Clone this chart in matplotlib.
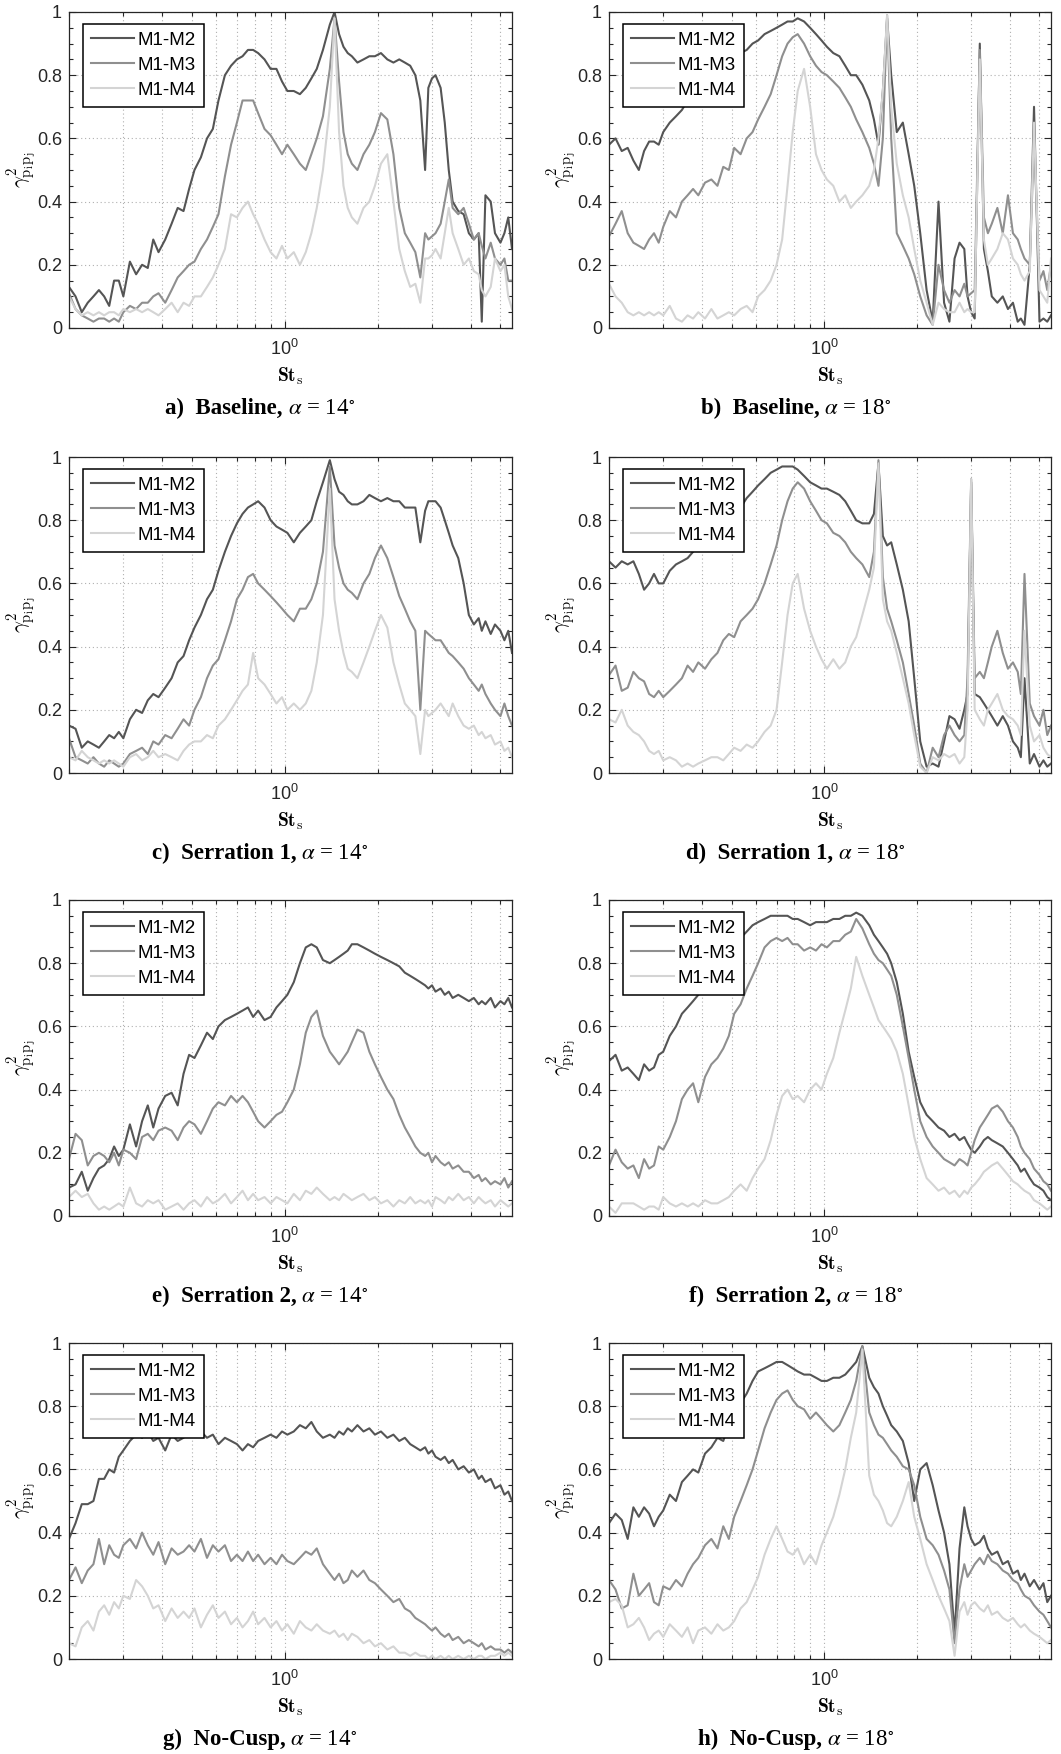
import matplotlib.pyplot as plt
from matplotlib.ticker import MultipleLocator, FixedLocator, NullFormatter, FuncFormatter

plt.rcParams['font.family'] = ['Liberation Sans', 'DejaVu Sans']

# Strouhal number grid
st = [0.20, 0.21, 0.22, 0.23, 0.24, 0.25, 0.26, 0.27, 0.28, 0.29, 0.30,
      0.315, 0.33, 0.345, 0.36, 0.375, 0.39,
      0.41, 0.43, 0.45, 0.47, 0.49, 0.51,
      0.535, 0.56, 0.585, 0.61,
      0.64, 0.67, 0.70, 0.73, 0.76, 0.79, 0.82,
      0.86, 0.90, 0.94, 0.98,
      1.02, 1.07, 1.12, 1.17, 1.22, 1.27,
      1.33, 1.40, 1.45, 1.50, 1.55, 1.60, 1.65,
      1.72, 1.80, 1.88, 1.96,
      2.05, 2.15, 2.25, 2.35, 2.45, 2.55, 2.65, 2.75, 2.85,
      2.92, 3.0, 3.08,
      3.2, 3.3, 3.4, 3.5, 3.65, 3.8, 3.95,
      4.1, 4.25, 4.35, 4.47, 4.65, 4.8, 5.0, 5.15, 5.3, 5.45]

# a) Baseline, 14 deg
a_m12 = [0.13, 0.10, 0.05, 0.08, 0.10, 0.12, 0.10, 0.07, 0.15, 0.15, 0.10,
         0.21, 0.17, 0.20, 0.19, 0.28, 0.24,
         0.28, 0.33, 0.38, 0.37, 0.44, 0.50,
         0.54, 0.60, 0.63, 0.72,
         0.80, 0.83, 0.85, 0.86, 0.88, 0.88, 0.87,
         0.85, 0.82, 0.82, 0.78,
         0.75, 0.75, 0.74, 0.76, 0.79, 0.82,
         0.88, 0.96, 1.00, 0.93, 0.89, 0.87, 0.86,
         0.84, 0.85, 0.86, 0.86,
         0.87, 0.85, 0.84, 0.85, 0.84, 0.83, 0.80, 0.72, 0.50,
         0.76, 0.79, 0.80,
         0.76, 0.65, 0.50, 0.40, 0.37, 0.36, 0.30,
         0.28, 0.30, 0.02, 0.42, 0.40, 0.30, 0.27, 0.30, 0.35, 0.25]
a_m13 = [0.11, 0.06, 0.04, 0.03, 0.02, 0.03, 0.03, 0.02, 0.03, 0.02, 0.05,
         0.07, 0.06, 0.08, 0.08, 0.10, 0.11,
         0.08, 0.12, 0.16, 0.18, 0.20, 0.21,
         0.25, 0.28, 0.32, 0.36,
         0.48, 0.58, 0.65, 0.72, 0.72, 0.72, 0.68,
         0.63, 0.61, 0.58, 0.55,
         0.58, 0.55, 0.52, 0.50, 0.55, 0.60,
         0.67, 0.82, 0.98, 0.78, 0.62, 0.55, 0.52,
         0.50, 0.55, 0.58, 0.62,
         0.68, 0.66, 0.55, 0.38, 0.30, 0.27, 0.24, 0.16, 0.30,
         0.28, 0.29, 0.30,
         0.33, 0.40, 0.47, 0.38, 0.36, 0.38, 0.33,
         0.28, 0.30, 0.26, 0.22, 0.27, 0.22, 0.20, 0.22, 0.15, 0.15]
a_m14 = [0.10, 0.06, 0.04, 0.05, 0.04, 0.05, 0.04, 0.05, 0.05, 0.04, 0.06,
         0.05, 0.06, 0.05, 0.06, 0.05, 0.04,
         0.06, 0.08, 0.05, 0.08, 0.07, 0.10,
         0.10, 0.13, 0.16, 0.20,
         0.25, 0.36, 0.35, 0.38, 0.40, 0.36, 0.33,
         0.28, 0.24, 0.22, 0.26,
         0.22, 0.24, 0.20, 0.24, 0.30, 0.38,
         0.50, 0.70, 0.98, 0.62, 0.45, 0.38, 0.35,
         0.33, 0.38, 0.40, 0.45,
         0.52, 0.55, 0.40, 0.25, 0.18, 0.13, 0.14, 0.08, 0.22,
         0.22, 0.23, 0.25,
         0.22, 0.30, 0.38, 0.30, 0.25, 0.20, 0.22,
         0.18, 0.17, 0.12, 0.10, 0.13, 0.22, 0.18, 0.20, 0.10, 0.06]

# b) Baseline, 18 deg
b_m12 = [0.58, 0.60, 0.56, 0.57, 0.53, 0.50, 0.56, 0.59, 0.59, 0.58, 0.62,
         0.65, 0.67, 0.69, 0.72, 0.74, 0.76,
         0.78, 0.80, 0.82, 0.84, 0.85, 0.86,
         0.87, 0.88, 0.90, 0.91,
         0.93, 0.94, 0.95, 0.96, 0.97, 0.97, 0.98,
         0.97, 0.95, 0.93, 0.91,
         0.89, 0.87, 0.86, 0.83, 0.80, 0.80,
         0.77, 0.72, 0.66, 0.58, 0.75, 0.98, 0.80,
         0.62, 0.65, 0.55, 0.45,
         0.30, 0.12, 0.02, 0.40, 0.08, 0.02, 0.22, 0.27, 0.25,
         0.10, 0.05, 0.03,
         0.90, 0.25, 0.18, 0.10, 0.08, 0.10, 0.06,
         0.08, 0.02, 0.03, 0.01, 0.20, 0.70, 0.02, 0.03, 0.02, 0.04]
b_m13 = [0.29, 0.33, 0.37, 0.30, 0.27, 0.26, 0.25, 0.28, 0.30, 0.27, 0.32,
         0.37, 0.35, 0.40, 0.42, 0.44, 0.42,
         0.46, 0.47, 0.45, 0.51, 0.50, 0.57,
         0.55, 0.60, 0.62, 0.66,
         0.70, 0.74, 0.80, 0.86, 0.90, 0.92, 0.93,
         0.90, 0.86, 0.83, 0.81,
         0.80, 0.78, 0.76, 0.73, 0.70, 0.66,
         0.62, 0.57, 0.52, 0.45, 0.60, 0.99, 0.60,
         0.30, 0.26, 0.22, 0.17,
         0.10, 0.04, 0.01, 0.20, 0.12, 0.08, 0.12, 0.10, 0.14,
         0.10, 0.11, 0.12,
         0.88, 0.35, 0.30, 0.33, 0.38, 0.30, 0.42,
         0.30, 0.28, 0.25, 0.22, 0.20, 0.60, 0.15, 0.18, 0.12, 0.20]
b_m14 = [0.14, 0.10, 0.08, 0.05, 0.04, 0.05, 0.04, 0.05, 0.04, 0.05, 0.04,
         0.07, 0.03, 0.02, 0.04, 0.03, 0.05,
         0.03, 0.06, 0.03, 0.04, 0.05, 0.04,
         0.06, 0.07, 0.05, 0.10,
         0.12, 0.15, 0.20, 0.28, 0.45, 0.62, 0.75,
         0.82, 0.70, 0.55, 0.50,
         0.47, 0.45, 0.40, 0.42, 0.38, 0.40,
         0.42, 0.45, 0.50, 0.60, 0.75, 0.99, 0.70,
         0.52, 0.42, 0.35, 0.25,
         0.15, 0.08, 0.01, 0.08, 0.06, 0.05, 0.05, 0.08, 0.05,
         0.06, 0.05, 0.05,
         0.85, 0.28, 0.20, 0.22, 0.25, 0.30, 0.28,
         0.22, 0.20, 0.17, 0.15, 0.18, 0.65, 0.12, 0.10, 0.08, 0.22]

# c) Serration 1, 14 deg
c_m12 = [0.15, 0.14, 0.08, 0.10, 0.09, 0.08, 0.10, 0.12, 0.11, 0.13, 0.11,
         0.17, 0.20, 0.19, 0.23, 0.25, 0.24,
         0.27, 0.30, 0.35, 0.37, 0.42, 0.46,
         0.50, 0.55, 0.58, 0.64,
         0.70, 0.75, 0.79, 0.82, 0.84, 0.85, 0.86,
         0.84, 0.80, 0.78, 0.77,
         0.76, 0.73, 0.76, 0.78, 0.80, 0.86,
         0.92, 0.99, 0.93, 0.89, 0.88, 0.86, 0.85,
         0.85, 0.86, 0.88, 0.87,
         0.86, 0.87, 0.86, 0.86, 0.84, 0.84, 0.84, 0.73, 0.83,
         0.86, 0.86, 0.86,
         0.84, 0.80, 0.76, 0.72, 0.68, 0.60, 0.50,
         0.47, 0.49, 0.45, 0.48, 0.44, 0.47, 0.45, 0.42, 0.45, 0.38]
c_m13 = [0.11, 0.05, 0.04, 0.03, 0.05, 0.03, 0.02, 0.04, 0.03, 0.02, 0.03,
         0.06, 0.07, 0.08, 0.06, 0.10, 0.09,
         0.12, 0.11, 0.14, 0.17, 0.15, 0.20,
         0.24, 0.30, 0.34, 0.36,
         0.42, 0.48, 0.55, 0.58, 0.62, 0.63, 0.60,
         0.58, 0.56, 0.54, 0.52,
         0.50, 0.48, 0.52, 0.52, 0.55, 0.60,
         0.70, 0.97, 0.72, 0.65, 0.60, 0.58, 0.57,
         0.55, 0.60, 0.63, 0.68,
         0.72, 0.68, 0.62, 0.56, 0.52, 0.48, 0.45, 0.20, 0.45,
         0.44, 0.43, 0.42,
         0.42, 0.40, 0.38, 0.37, 0.35, 0.33, 0.30,
         0.28, 0.26, 0.28, 0.25, 0.22, 0.20, 0.18, 0.22, 0.18, 0.15]
c_m14 = [0.05, 0.04, 0.07, 0.05, 0.04, 0.03, 0.04, 0.03, 0.04, 0.03, 0.02,
         0.05, 0.06, 0.04, 0.05, 0.07, 0.05,
         0.06, 0.05, 0.04, 0.07, 0.09, 0.10,
         0.10, 0.12, 0.11, 0.15,
         0.17, 0.20, 0.23, 0.26, 0.28, 0.38, 0.30,
         0.28, 0.25, 0.22, 0.24,
         0.20, 0.22, 0.20, 0.22, 0.26, 0.35,
         0.50, 0.90, 0.55, 0.45, 0.38, 0.33, 0.32,
         0.30, 0.35, 0.40, 0.45,
         0.50, 0.46, 0.35, 0.28, 0.22, 0.20, 0.18, 0.06, 0.20,
         0.18, 0.19, 0.20,
         0.22, 0.20, 0.18, 0.22, 0.18, 0.15, 0.14,
         0.15, 0.12, 0.13, 0.11, 0.12, 0.09, 0.10, 0.07, 0.08, 0.05]

# d) Serration 1, 18 deg
d_m12 = [0.67, 0.65, 0.67, 0.66, 0.67, 0.63, 0.58, 0.60, 0.63, 0.60, 0.60,
         0.64, 0.66, 0.67, 0.68, 0.70, 0.72,
         0.74, 0.76, 0.78, 0.79, 0.81, 0.82,
         0.84, 0.87, 0.89, 0.91,
         0.93, 0.95, 0.96, 0.97, 0.97, 0.97, 0.96,
         0.94, 0.92, 0.91, 0.90,
         0.90, 0.89, 0.88, 0.86, 0.83, 0.80,
         0.79, 0.79, 0.82, 0.98, 0.75, 0.72, 0.73,
         0.66, 0.58, 0.48, 0.30,
         0.10, 0.02, 0.03, 0.02, 0.10, 0.18, 0.17, 0.14, 0.20,
         0.25, 0.92, 0.25,
         0.24, 0.22, 0.20, 0.18, 0.15, 0.18, 0.15,
         0.10, 0.08, 0.05, 0.30, 0.03, 0.06, 0.02, 0.04, 0.02, 0.03]
d_m13 = [0.31, 0.34, 0.26, 0.27, 0.32, 0.30, 0.29, 0.25, 0.24, 0.26, 0.24,
         0.26, 0.28, 0.30, 0.34, 0.32, 0.35,
         0.33, 0.36, 0.38, 0.42, 0.44, 0.43,
         0.48, 0.50, 0.52, 0.55,
         0.60, 0.66, 0.72, 0.80, 0.86, 0.90, 0.92,
         0.90, 0.86, 0.83, 0.80,
         0.79, 0.76, 0.75, 0.73, 0.70, 0.68,
         0.66, 0.62, 0.70, 0.99, 0.62, 0.52, 0.48,
         0.42, 0.35, 0.25, 0.15,
         0.03, 0.00, 0.08, 0.05, 0.12, 0.15, 0.12, 0.10, 0.12,
         0.30, 0.93, 0.30,
         0.32, 0.30, 0.35, 0.40, 0.45, 0.38, 0.33,
         0.35, 0.32, 0.25, 0.63, 0.22, 0.18, 0.15, 0.20, 0.12, 0.15]
d_m14 = [0.17, 0.16, 0.20, 0.15, 0.13, 0.12, 0.10, 0.07, 0.06, 0.07, 0.04,
         0.05, 0.04, 0.02, 0.03, 0.02, 0.03,
         0.04, 0.05, 0.05, 0.04, 0.06, 0.08,
         0.07, 0.09, 0.08, 0.10,
         0.13, 0.15, 0.20, 0.35, 0.50, 0.60, 0.63,
         0.52, 0.45, 0.40, 0.36,
         0.33, 0.36, 0.33, 0.35, 0.40, 0.43,
         0.50, 0.58, 0.65, 0.98, 0.55, 0.48, 0.45,
         0.38, 0.30, 0.22, 0.12,
         0.02, 0.00, 0.05, 0.04, 0.06, 0.05, 0.06, 0.03, 0.05,
         0.20, 0.93, 0.20,
         0.17, 0.15, 0.20, 0.22, 0.25, 0.20, 0.18,
         0.17, 0.15, 0.12, 0.45, 0.15, 0.10, 0.12, 0.08, 0.06, 0.05]

# e) Serration 2, 14 deg
e_m12 = [0.09, 0.10, 0.14, 0.08, 0.12, 0.15, 0.16, 0.18, 0.22, 0.19, 0.21,
         0.29, 0.22, 0.30, 0.35, 0.28, 0.34,
         0.38, 0.39, 0.35, 0.45, 0.51, 0.50,
         0.54, 0.58, 0.56, 0.60,
         0.62, 0.63, 0.64, 0.65, 0.66, 0.63, 0.65,
         0.62, 0.63, 0.66, 0.68,
         0.70, 0.74, 0.80, 0.85, 0.86, 0.85,
         0.81, 0.80, 0.81, 0.82, 0.83, 0.84, 0.86,
         0.86, 0.85, 0.84, 0.83,
         0.82, 0.81, 0.80, 0.79, 0.77, 0.76, 0.75, 0.74, 0.73,
         0.72, 0.73, 0.71,
         0.72, 0.70, 0.71, 0.69, 0.70, 0.69, 0.68,
         0.69, 0.67, 0.68, 0.67, 0.69, 0.66, 0.68, 0.67, 0.69, 0.66]
e_m13 = [0.18, 0.26, 0.24, 0.16, 0.19, 0.20, 0.19, 0.17, 0.20, 0.16, 0.21,
         0.20, 0.18, 0.25, 0.26, 0.24, 0.27,
         0.28, 0.27, 0.24, 0.28, 0.30, 0.29,
         0.26, 0.30, 0.34, 0.36,
         0.35, 0.38, 0.36, 0.38, 0.36, 0.33, 0.30,
         0.28, 0.30, 0.32, 0.33,
         0.36, 0.40, 0.48, 0.58, 0.63, 0.65,
         0.57, 0.52, 0.50, 0.48, 0.50, 0.52, 0.55,
         0.59, 0.58, 0.52, 0.48,
         0.44, 0.40, 0.37, 0.32, 0.28, 0.25, 0.22, 0.20, 0.19,
         0.20, 0.17, 0.19,
         0.17, 0.16, 0.17, 0.15, 0.16, 0.14, 0.14,
         0.12, 0.13, 0.11, 0.12, 0.10, 0.11, 0.10, 0.12, 0.09, 0.11]
e_m14 = [0.06, 0.08, 0.06, 0.07, 0.04, 0.02, 0.03, 0.02, 0.03, 0.04, 0.03,
         0.09, 0.04, 0.03, 0.05, 0.04, 0.05,
         0.02, 0.03, 0.04, 0.02, 0.04, 0.05,
         0.03, 0.06, 0.04, 0.05,
         0.07, 0.04, 0.06, 0.08, 0.05, 0.07, 0.05,
         0.06, 0.04, 0.06, 0.05,
         0.04, 0.07, 0.05, 0.08, 0.07, 0.09,
         0.07, 0.05, 0.06, 0.05, 0.07, 0.06, 0.05,
         0.06, 0.07, 0.05, 0.06,
         0.04, 0.05, 0.03, 0.05, 0.04, 0.06, 0.04, 0.05, 0.04,
         0.05, 0.03, 0.06,
         0.05, 0.04, 0.06, 0.05, 0.07, 0.05, 0.06,
         0.04, 0.06, 0.05, 0.04, 0.05, 0.03, 0.05, 0.04, 0.03, 0.04]

# f) Serration 2, 18 deg
f_m12 = [0.49, 0.51, 0.46, 0.47, 0.45, 0.43, 0.48, 0.46, 0.47, 0.51, 0.52,
         0.57, 0.60, 0.64, 0.66, 0.68, 0.70,
         0.73, 0.76, 0.79, 0.82, 0.84, 0.86,
         0.88, 0.90, 0.92, 0.93,
         0.94, 0.95, 0.95, 0.95, 0.95, 0.94, 0.94,
         0.93, 0.92, 0.93, 0.93,
         0.93, 0.94, 0.94, 0.95, 0.95, 0.96,
         0.95, 0.92, 0.89, 0.87, 0.85, 0.83, 0.80,
         0.74, 0.64, 0.52, 0.44,
         0.36, 0.32, 0.30, 0.28, 0.27, 0.25, 0.26, 0.24, 0.25,
         0.23, 0.21, 0.20,
         0.22, 0.24, 0.25, 0.24, 0.23, 0.22, 0.20,
         0.18, 0.16, 0.14, 0.15, 0.12, 0.10, 0.09, 0.08, 0.06, 0.05]
f_m13 = [0.16, 0.21, 0.17, 0.15, 0.16, 0.12, 0.18, 0.15, 0.16, 0.22, 0.21,
         0.25, 0.30, 0.37, 0.40, 0.42, 0.36,
         0.44, 0.48, 0.50, 0.53, 0.57, 0.64,
         0.67, 0.72, 0.76, 0.80,
         0.85, 0.87, 0.88, 0.87, 0.88, 0.86, 0.86,
         0.84, 0.85, 0.84, 0.86,
         0.85, 0.87, 0.87, 0.89, 0.90, 0.94,
         0.91, 0.86, 0.83, 0.81, 0.80, 0.78, 0.76,
         0.70, 0.60, 0.50, 0.40,
         0.30, 0.25, 0.22, 0.20, 0.18, 0.17, 0.16, 0.18, 0.17,
         0.16, 0.20, 0.24,
         0.28, 0.30, 0.32, 0.34, 0.35, 0.33, 0.30,
         0.28, 0.25, 0.22, 0.20, 0.18, 0.15, 0.13, 0.11, 0.10, 0.08]
f_m14 = [0.03, 0.01, 0.04, 0.04, 0.04, 0.03, 0.02, 0.03, 0.03, 0.02, 0.06,
         0.04, 0.03, 0.04, 0.03, 0.04, 0.03,
         0.05, 0.04, 0.04, 0.05, 0.06, 0.08,
         0.10, 0.08, 0.12, 0.15,
         0.18, 0.24, 0.32, 0.38, 0.40, 0.37, 0.38,
         0.36, 0.40, 0.42, 0.40,
         0.45, 0.50, 0.58, 0.65, 0.72, 0.82,
         0.76, 0.70, 0.66, 0.62, 0.60, 0.58, 0.56,
         0.52, 0.45, 0.35, 0.25,
         0.18, 0.12, 0.10, 0.08, 0.09, 0.07, 0.08, 0.06, 0.08,
         0.07, 0.09, 0.10,
         0.12, 0.14, 0.15, 0.16, 0.17, 0.15, 0.13,
         0.11, 0.10, 0.09, 0.08, 0.07, 0.05, 0.04, 0.03, 0.02, 0.03]

# g) No-Cusp, 14 deg
g_m12 = [0.38, 0.43, 0.49, 0.49, 0.50, 0.57, 0.57, 0.60, 0.59, 0.64, 0.66,
         0.69, 0.71, 0.70, 0.72, 0.69, 0.70,
         0.66, 0.71, 0.69, 0.70, 0.72, 0.71,
         0.72, 0.70, 0.71, 0.68,
         0.70, 0.69, 0.68, 0.66, 0.68, 0.67, 0.69,
         0.70, 0.71, 0.70, 0.72,
         0.71, 0.72, 0.74, 0.73, 0.75, 0.72,
         0.70, 0.71, 0.70, 0.72, 0.71, 0.73, 0.72,
         0.74, 0.72, 0.73, 0.71,
         0.72, 0.70, 0.71, 0.69, 0.70, 0.68, 0.67, 0.66, 0.67,
         0.65, 0.66, 0.64,
         0.63, 0.64, 0.62, 0.63, 0.60, 0.61, 0.59,
         0.60, 0.57, 0.58, 0.56, 0.57, 0.54, 0.55, 0.52, 0.53, 0.50]
g_m13 = [0.25, 0.29, 0.24, 0.28, 0.30, 0.38, 0.30, 0.36, 0.33, 0.32, 0.36,
         0.38, 0.35, 0.40, 0.36, 0.33, 0.37,
         0.30, 0.35, 0.33, 0.34, 0.36, 0.34,
         0.38, 0.32, 0.36, 0.34,
         0.36, 0.31, 0.33, 0.31, 0.34, 0.31, 0.33,
         0.30, 0.32, 0.30, 0.33,
         0.31, 0.30, 0.32, 0.34, 0.33, 0.35,
         0.30, 0.27, 0.25, 0.27, 0.24, 0.25, 0.28,
         0.26, 0.28, 0.25, 0.24,
         0.22, 0.20, 0.18, 0.19, 0.16, 0.15, 0.13, 0.12, 0.11,
         0.10, 0.09, 0.10,
         0.08, 0.07, 0.08, 0.06, 0.07, 0.05, 0.06,
         0.05, 0.04, 0.05, 0.03, 0.04, 0.03, 0.03, 0.02, 0.03, 0.02]
g_m14 = [0.05, 0.04, 0.10, 0.12, 0.09, 0.15, 0.17, 0.14, 0.18, 0.16, 0.20,
         0.19, 0.25, 0.23, 0.20, 0.16, 0.17,
         0.12, 0.16, 0.13, 0.15, 0.13, 0.16,
         0.10, 0.14, 0.17, 0.13,
         0.15, 0.11, 0.13, 0.10, 0.12, 0.15, 0.11,
         0.13, 0.10, 0.12, 0.09,
         0.11, 0.08, 0.12, 0.10, 0.09, 0.11,
         0.09, 0.08, 0.09, 0.07, 0.08, 0.06, 0.08,
         0.07, 0.05, 0.06, 0.04,
         0.05, 0.03, 0.04, 0.02, 0.02, 0.01, 0.02, 0.01, 0.01,
         0.00, 0.01, 0.00,
         0.01, 0.00, 0.01, 0.00, 0.01, 0.00, 0.01,
         0.00, 0.01, 0.01, 0.00, 0.01, 0.01, 0.02, 0.01, 0.02, 0.01]

# h) No-Cusp, 18 deg
h_m12 = [0.43, 0.46, 0.44, 0.38, 0.48, 0.45, 0.48, 0.46, 0.42, 0.45, 0.47,
         0.52, 0.50, 0.56, 0.58, 0.60, 0.59,
         0.65, 0.67, 0.70, 0.69, 0.74, 0.78,
         0.81, 0.84, 0.88, 0.91,
         0.92, 0.93, 0.94, 0.94, 0.93, 0.92, 0.91,
         0.90, 0.90, 0.89, 0.88,
         0.88, 0.89, 0.89, 0.90, 0.92, 0.94,
         0.99, 0.89, 0.86, 0.84, 0.80, 0.77, 0.74,
         0.72, 0.69, 0.62, 0.50,
         0.60, 0.62, 0.55, 0.47, 0.40, 0.30, 0.08, 0.35, 0.48,
         0.42, 0.38, 0.36,
         0.37, 0.39, 0.35, 0.33, 0.34, 0.30, 0.31,
         0.27, 0.28, 0.25, 0.27, 0.23, 0.25, 0.22, 0.24, 0.18, 0.20]
h_m13 = [0.25, 0.22, 0.16, 0.17, 0.27, 0.20, 0.22, 0.24, 0.18, 0.17, 0.23,
         0.22, 0.25, 0.23, 0.27, 0.30, 0.32,
         0.36, 0.38, 0.35, 0.42, 0.38, 0.45,
         0.50, 0.55, 0.60, 0.66,
         0.73, 0.78, 0.82, 0.84, 0.85, 0.82, 0.80,
         0.79, 0.76, 0.78, 0.76,
         0.74, 0.72, 0.74, 0.78, 0.82, 0.88,
         0.99, 0.78, 0.74, 0.71, 0.70, 0.68, 0.66,
         0.64, 0.61, 0.60, 0.55,
         0.45, 0.38, 0.36, 0.33, 0.28, 0.22, 0.05, 0.22, 0.30,
         0.26, 0.28, 0.30,
         0.32, 0.30, 0.33, 0.31, 0.30, 0.28, 0.27,
         0.25, 0.24, 0.22, 0.20, 0.19, 0.17, 0.15, 0.14, 0.12, 0.10]
h_m14 = [0.18, 0.19, 0.17, 0.10, 0.11, 0.13, 0.10, 0.06, 0.08, 0.09, 0.07,
         0.11, 0.09, 0.07, 0.10, 0.05, 0.09,
         0.10, 0.08, 0.11, 0.09, 0.10, 0.12,
         0.16, 0.18, 0.22, 0.26,
         0.33, 0.38, 0.42, 0.38, 0.34, 0.33, 0.35,
         0.30, 0.33, 0.30, 0.36,
         0.40, 0.45, 0.52, 0.60, 0.70, 0.78,
         0.98, 0.58, 0.52, 0.50, 0.47, 0.43, 0.42,
         0.45, 0.50, 0.56, 0.45,
         0.38, 0.30, 0.25, 0.20, 0.16, 0.12, 0.01, 0.15, 0.18,
         0.14, 0.17, 0.18,
         0.16, 0.15, 0.17, 0.14, 0.15, 0.13, 0.12,
         0.13, 0.11, 0.10, 0.11, 0.09, 0.08, 0.07, 0.06, 0.05, 0.06]

series_labels = ['M1-M2', 'M1-M3', 'M1-M4']
series_colors = ['#555555', '#8f8f8f', '#d4d4d4']

panels = [
    ('a)', 'Baseline,', 14, [a_m12, a_m13, a_m14]),
    ('b)', 'Baseline,', 18, [b_m12, b_m13, b_m14]),
    ('c)', 'Serration 1,', 14, [c_m12, c_m13, c_m14]),
    ('d)', 'Serration 1,', 18, [d_m12, d_m13, d_m14]),
    ('e)', 'Serration 2,', 14, [e_m12, e_m13, e_m14]),
    ('f)', 'Serration 2,', 18, [f_m12, f_m13, f_m14]),
    ('g)', 'No-Cusp,', 14, [g_m12, g_m13, g_m14]),
    ('h)', 'No-Cusp,', 18, [h_m12, h_m13, h_m14]),
]

W, H = 1061, 1754
fig = plt.figure(figsize=(W / 100, H / 100), dpi=100)

col_left = [69, 609]
col_w = [443, 442]
row_top = [12, 457, 900, 1343]
ax_h = 316
title_cx = [260, 796]

captions = []
for i, (tag, name, alpha_deg, ys) in enumerate(panels):
    r, c = divmod(i, 2)
    ax = fig.add_axes([col_left[c] / W, 1 - (row_top[r] + ax_h) / H,
                       col_w[c] / W, ax_h / H])
    for y, lab, col in zip(ys, series_labels, series_colors):
        ax.plot(st, y, color=col, lw=1.5, label=lab)

    ax.set_xscale('log')
    ax.set_xlim(0.2, 5.45)
    ax.set_ylim(0, 1)
    ax.xaxis.set_major_locator(FixedLocator([1.0]))
    ax.xaxis.set_major_formatter(FuncFormatter(lambda v, p: r'$\mathregular{10^0}$'))
    ax.xaxis.set_minor_locator(FixedLocator([0.2, 0.3, 0.4, 0.5, 0.6, 0.7, 0.8, 0.9,
                                             2, 3, 4, 5]))
    ax.xaxis.set_minor_formatter(NullFormatter())
    ax.yaxis.set_major_locator(MultipleLocator(0.2))
    ax.yaxis.set_minor_locator(MultipleLocator(0.05))
    ax.yaxis.set_major_formatter(FuncFormatter(lambda v, p: '%g' % round(v, 2)))

    ax.tick_params(which='both', direction='in', top=True, right=True,
                   color='#262626', width=0.8, labelsize=13, labelcolor='#262626')
    ax.tick_params(which='major', length=5)
    ax.tick_params(which='minor', length=3)
    ax.tick_params(axis='x', which='major', pad=8)
    ax.tick_params(axis='y', which='major', pad=5)

    gkw = dict(color='#b0b0b0', linestyle=(0, (1, 2.5)), linewidth=0.8)
    ax.xaxis.grid(True, which='both', **gkw)
    ax.yaxis.grid(True, which='major', **gkw)
    ax.set_axisbelow(True)
    for sp in ax.spines.values():
        sp.set_color('#262626')
        sp.set_linewidth(0.9)

    leg = ax.legend(loc='upper left', bbox_to_anchor=(14 / col_w[c], 1 - 12 / ax_h),
                    borderaxespad=0, fancybox=False, framealpha=1, edgecolor='black',
                    fontsize=13.5, handlelength=2.3, handletextpad=0.2,
                    labelspacing=0.42, borderpad=0.42)
    leg.get_frame().set_linewidth(1.1)

    ax.text(0.5, -48 / ax_h, r'$\mathbf{St}_{\mathrm{s}}$', transform=ax.transAxes,
            ha='center', va='center', fontsize=14, math_fontfamily='cm')
    ax.text(-46 / col_w[c], 0.5, r'$\gamma^2_{\mathrm{p_ip_j}}$', transform=ax.transAxes,
            ha='center', va='center', rotation=90, fontsize=15, math_fontfamily='cm')

    yb = 1 - (row_top[r] + ax_h + 86) / H
    t1 = fig.text(0, yb, tag + '  ' + name, fontfamily='Liberation Serif',
                  fontweight='bold', fontsize=16.5, va='baseline', ha='left')
    t2 = fig.text(0, yb, r'$\alpha$ = %d$^{\circ}$' % alpha_deg,
                  fontfamily='Liberation Serif', fontsize=16.5, va='baseline', ha='left',
                  math_fontfamily='stix')
    captions.append((t1, t2, title_cx[c]))

# centre the two-part captions under each panel
fig.canvas.draw()
rend = fig.canvas.get_renderer()
for t1, t2, cx in captions:
    w1 = t1.get_window_extent(rend).width
    w2 = t2.get_window_extent(rend).width
    gap = 5
    x0 = cx - (w1 + gap + w2) / 2
    t1.set_x(x0 / W)
    t2.set_x((x0 + w1 + gap) / W)

fig.savefig('out.png', dpi=100)
